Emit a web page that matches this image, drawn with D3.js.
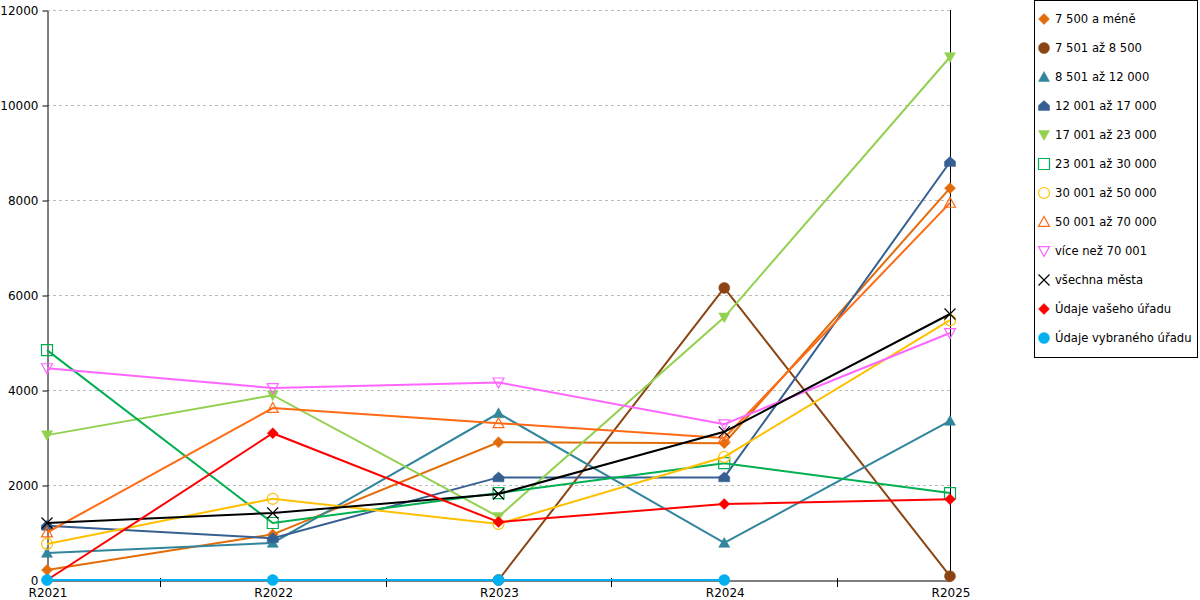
<!DOCTYPE html>
<html>
<head>
<meta charset="utf-8">
<script src="https://cdn.jsdelivr.net/npm/d3@7"></script>
<style>
  body { margin: 0; background: #fff; }
  svg text { font-family: "DejaVu Sans", sans-serif; font-size: 12px; fill: #000; }
</style>
</head>
<body>
<div class="visual"></div>
<script>
const years = ["R2021", "R2022", "R2023", "R2024", "R2025"];
const yTicks = [0, 2000, 4000, 6000, 8000, 10000, 12000];

const seriesNames = [
  "7 500 a méně", "7 501 až 8 500", "8 501 až 12 000", "12 001 až 17 000",
  "17 001 až 23 000", "23 001 až 30 000", "30 001 až 50 000", "50 001 až 70 000",
  "více než 70 001", "všechna města", "Údaje vašeho úřadu", "Údaje vybraného úřadu"
];

const v7500 = [210, 960, 2900, 2880, 8250];
const v8500 = [null, null, 0, 6150, 80];
const v12000 = [570, 780, 3510, 780, 3350];
const v17000 = [1140, 880, 2160, 2160, 8800];
const v23000 = [3050, 3890, 1330, 5530, 11010];
const v30000 = [4840, 1200, 1830, 2460, 1830];
const v50000 = [760, 1710, 1180, 2590, 5470];
const v70000 = [1000, 3620, 3300, 2990, 7940];
const vOver = [4460, 4040, 4160, 3280, 5200];
const vAll = [1200, 1410, 1810, 3120, 5600];
const vYours = [0, 3090, 1220, 1600, 1700];
const vSelected = [0, 0, 0, 0, null];

const seriesValues = [v7500, v8500, v12000, v17000, v23000, v30000, v50000, v70000, vOver, vAll, vYours, vSelected];
const colors = ["#E36C0A", "#8B4513", "#31859C", "#376092", "#92D050", "#00B050",
                "#FFC000", "#FF6A13", "#FF66FF", "#000000", "#FF0000", "#00B0F0"];
const shapes = ["diamond", "circle", "triUp", "house", "triDown", "square",
                "circle", "triUp", "triDown", "cross", "diamond", "circle"];
const filled = [true, true, true, true, true, false, false, false, false, false, true, true];

const W = 1200, H = 600;
const plotLeft = 47, plotRight = 950, plotTop = 10, plotBottom = 580;

const svg = d3.select(".visual").append("svg")
  .attr("width", W).attr("height", H);

const x = d3.scalePoint().domain(years).range([plotLeft, plotRight]);
const y = d3.scaleLinear().domain([0, 12000]).range([plotBottom, plotTop]);

// grid
svg.append("g").selectAll("line")
  .data(yTicks.filter(t => t > 0))
  .enter().append("line")
  .attr("x1", plotLeft).attr("x2", plotRight)
  .attr("y1", d => y(d) + 0.5).attr("y2", d => y(d) + 0.5)
  .attr("stroke", "#bbb").attr("stroke-dasharray", "3,3");

// y axis
const yAxis = svg.append("g")
  .attr("transform", `translate(${plotLeft + 0.5},0.5)`)
  .call(d3.axisLeft(y).tickValues(yTicks).tickSize(5).tickSizeOuter(0).tickFormat(d3.format("d")));
yAxis.selectAll("path, line").attr("stroke", "#000");
yAxis.selectAll("text").attr("x", -9).style("font-size", "12px").style("font-family", "DejaVu Sans");

// x axis
const xAxis = svg.append("g")
  .attr("transform", `translate(0.5,${plotBottom + 0.5})`)
  .call(d3.axisBottom(x).tickSize(0).tickSizeOuter(0));
xAxis.select("path").attr("stroke", "#000");
xAxis.selectAll("text").attr("dy", "1.1em").style("font-size", "12px").style("font-family", "DejaVu Sans");

const mids = d3.pairs(years).map(p => Math.round((x(p[0]) + x(p[1])) / 2) + 0.5);
svg.append("g").selectAll("line")
  .data(mids).enter().append("line")
  .attr("x1", d => d).attr("x2", d => d)
  .attr("y1", plotBottom - 2).attr("y2", plotBottom + 7)
  .attr("stroke", "#000");

// right border line
svg.append("line")
  .attr("x1", plotRight + 0.5).attr("x2", plotRight + 0.5).attr("y1", plotTop).attr("y2", plotBottom)
  .attr("stroke", "#000");

function markerPath(shape, s) {
  const r = s / 2;
  switch (shape) {
    case "diamond": return `M0,${-r}L${r},0L0,${r}L${-r},0Z`;
    case "triUp": return `M0,${-r}L${r},${r * 0.8}L${-r},${r * 0.8}Z`;
    case "triDown": return `M0,${r}L${r},${-r * 0.8}L${-r},${-r * 0.8}Z`;
    case "square": return `M${-r},${-r}H${r}V${r}H${-r}Z`;
    case "house": return `M0,${-r}L${r},${-r * 0.1}V${r * 0.8}H${-r}V${-r * 0.1}Z`;
    case "cross": return `M${-r},${-r}L${r},${r}M${r},${-r}L${-r},${r}`;
    default: return d3.symbol(d3.symbolCircle, Math.PI * r * r)();
  }
}

const line = d3.line()
  .defined(d => d.v !== null)
  .x(d => x(d.year))
  .y(d => y(d.v));

seriesValues.forEach((vals, i) => {
  const pts = years.map((yr, j) => ({ year: yr, v: vals[j] }));
  const g = svg.append("g");
  g.append("path")
    .datum(pts)
    .attr("d", line)
    .attr("fill", "none")
    .attr("stroke", colors[i])
    .attr("stroke-width", 2);
  g.selectAll("path.m")
    .data(pts.filter(d => d.v !== null))
    .enter().append("path")
    .attr("class", "m")
    .attr("transform", d => `translate(${x(d.year)},${y(d.v)})`)
    .attr("d", markerPath(shapes[i], 11))
    .attr("fill", filled[i] ? colors[i] : "none")
    .attr("stroke", colors[i])
    .attr("stroke-width", filled[i] ? 0.5 : 1.2);
});

// legend
const legend = svg.append("g");
legend.append("rect")
  .attr("x", 1034.5).attr("y", 0.5).attr("width", 163).attr("height", 357)
  .attr("fill", "#fff").attr("stroke", "#000");

const items = legend.selectAll("g.item")
  .data(seriesNames)
  .enter().append("g")
  .attr("class", "item")
  .attr("transform", (d, i) => `translate(1044,${19 + i * 29})`);

items.append("path")
  .attr("d", (d, i) => markerPath(shapes[i], 11))
  .attr("fill", (d, i) => filled[i] ? colors[i] : "none")
  .attr("stroke", (d, i) => colors[i])
  .attr("stroke-width", (d, i) => filled[i] ? 0.5 : 1.2);

items.append("text")
  .attr("x", 11).attr("dy", "0.35em")
  .style("font-size", "11.6px")
  .text(d => d);
</script>
</body>
</html>
